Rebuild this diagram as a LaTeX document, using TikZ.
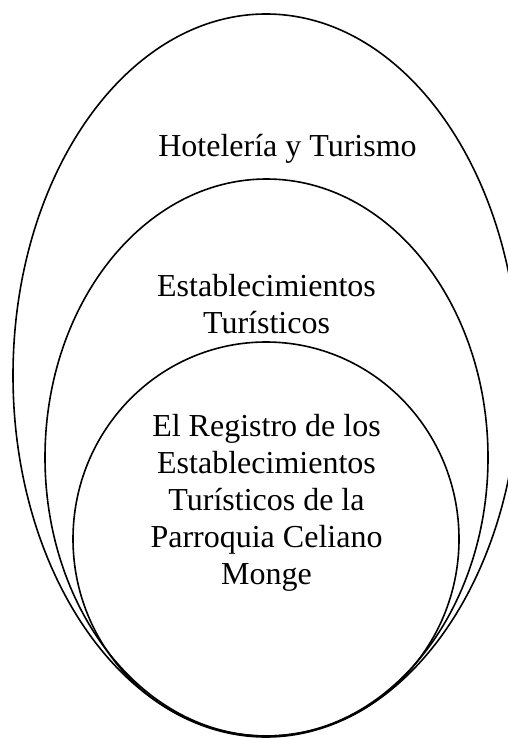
\documentclass[tikz,border=0pt]{standalone}
\usepackage{fontspec}
\setmainfont{Liberation Serif}
\tikzset{
  ring/.style={draw=black, line width=1.6pt},
  label/.style={inner sep=0pt, align=center, font=\fontsize{32}{37}\selectfont}
}
\begin{document}
\begin{tikzpicture}[x=1pt, y=-1pt]
\useasboundingbox (0,0) rectangle (508,738);
\clip (0,0) rectangle (508,738);
\fill[white] (0,0) rectangle (508,738);
\draw[ring] (266,375.5) ellipse [x radius=253, y radius=361.5];
\draw[ring] (266.5,457.5) ellipse [x radius=221.5, y radius=278.5];
\draw[ring] (266,539) ellipse [x radius=193, y radius=197];
\node[label, anchor=base] (hot) at (287.5,157) {Hotelería y Turismo};
\node[label, anchor=center] (est) at (266.5,304.5) {Establecimientos\\Turísticos};
\node[label, anchor=center] (reg) at (266.5,502.5) {El Registro de los\\Establecimientos\\Turísticos de la\\Parroquia Celiano\\Monge};
\end{tikzpicture}
\end{document}
